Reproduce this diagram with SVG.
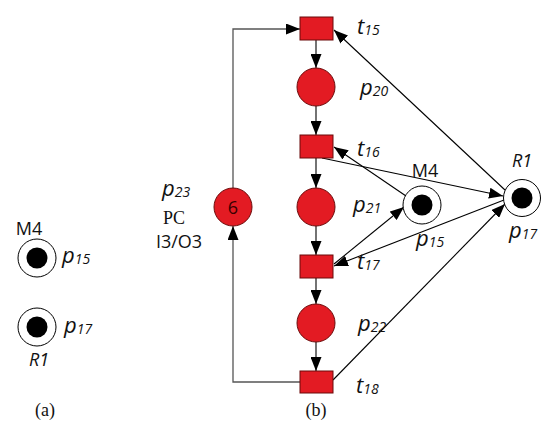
<svg xmlns="http://www.w3.org/2000/svg" width="550" height="442" viewBox="0 0 550 442">
<style>
.tr{fill:#e31b23;stroke:#6b0a0a;stroke-width:1}
.pl{fill:#e31b23;stroke:#6b0a0a;stroke-width:1}
.ring{fill:#fff;stroke:#000;stroke-width:1}
.tok{fill:#000}
.lbl{font-family:"Open Sans","DejaVu Sans",sans-serif;font-style:italic;font-size:22px;fill:#111}
.sub{font-size:14px}
.nm{font-family:"Open Sans","DejaVu Sans",sans-serif;font-size:18px;fill:#111}
.ser{font-family:"Liberation Serif",serif;font-size:18px;fill:#111}
.arc{stroke:#000;stroke-width:1.1;fill:none}
.loop{stroke:#555;stroke-width:1.3;fill:none}
</style>
<defs>
<marker id="ah" viewBox="0 0 14 11" refX="14" refY="5.5" markerWidth="14" markerHeight="11" markerUnits="userSpaceOnUse" orient="auto">
<path d="M0,0 L14,5.5 L0,11 z" fill="#000"/>
</marker>
</defs>

<g id="connectors">
<line class="arc" x1="316" y1="40" x2="316" y2="68" marker-end="url(#ah)"/>
<line class="arc" x1="316" y1="106" x2="316" y2="135" marker-end="url(#ah)"/>
<line class="arc" x1="316" y1="158" x2="316" y2="188" marker-end="url(#ah)"/>
<line class="arc" x1="316" y1="226" x2="316" y2="255" marker-end="url(#ah)"/>
<line class="arc" x1="316" y1="278" x2="316" y2="304" marker-end="url(#ah)"/>
<line class="arc" x1="316" y1="342" x2="316" y2="371" marker-end="url(#ah)"/>
<polyline class="loop" points="300,382 233,382 233,226" marker-end="url(#ah)"/>
<polyline class="loop" points="233,188 233,29 300,29" marker-end="url(#ah)"/>
<line class="arc" x1="505" y1="190" x2="334" y2="30" marker-end="url(#ah)"/>
<line class="arc" x1="322" y1="158" x2="503" y2="196" marker-end="url(#ah)"/>
<line class="arc" x1="406" y1="196" x2="334" y2="147" marker-end="url(#ah)"/>
<line class="arc" x1="334" y1="264" x2="404" y2="207" marker-end="url(#ah)"/>
<line class="arc" x1="504" y1="200" x2="334" y2="266" marker-end="url(#ah)"/>
<line class="arc" x1="333" y1="380" x2="505" y2="204" marker-end="url(#ah)"/>
</g>

<g id="a_p15">
<circle class="ring" cx="37" cy="258" r="19"/>
<circle class="tok" cx="37" cy="258" r="10.5"/>
<text class="nm" x="29" y="235" text-anchor="middle">M4</text>
<text class="lbl" x="62" y="263">p<tspan class="sub" dy="1">15</tspan></text>
</g>
<g id="a_p17">
<circle class="ring" cx="37" cy="327" r="19"/>
<circle class="tok" cx="37" cy="327" r="10.5"/>
<text class="lbl" x="64" y="333">p<tspan class="sub" dy="1">17</tspan></text>
<text class="nm" x="39" y="366" text-anchor="middle" font-style="italic">R1</text>
</g>
<text class="ser" x="45" y="416" text-anchor="middle">(a)</text>
<text class="ser" x="316" y="416" text-anchor="middle">(b)</text>

<g id="t15"><rect class="tr" x="300" y="17" width="33" height="23"/><text class="lbl" x="357" y="34">t<tspan class="sub" dy="1">15</tspan></text></g>
<g id="p20"><circle class="pl" cx="316" cy="87" r="19"/><text class="lbl" x="360" y="95">p<tspan class="sub" dy="1">20</tspan></text></g>
<g id="t16"><rect class="tr" x="300" y="135" width="33" height="23"/><text class="lbl" x="357" y="156">t<tspan class="sub" dy="1">16</tspan></text></g>
<g id="p21"><circle class="pl" cx="316" cy="207" r="19"/><text class="lbl" x="353" y="212">p<tspan class="sub" dy="1">21</tspan></text></g>
<g id="t17"><rect class="tr" x="300" y="255" width="33" height="23"/><text class="lbl" x="357" y="269">t<tspan class="sub" dy="1">17</tspan></text></g>
<g id="p22"><circle class="pl" cx="316" cy="323" r="19"/><text class="lbl" x="358" y="331">p<tspan class="sub" dy="1">22</tspan></text></g>
<g id="t18"><rect class="tr" x="300" y="371" width="33" height="22"/><text class="lbl" x="356" y="393">t<tspan class="sub" dy="1">18</tspan></text></g>
<g id="p23">
<circle class="pl" cx="233" cy="207" r="19"/>
<text x="233" y="214" text-anchor="middle" font-family="'Open Sans','DejaVu Sans',sans-serif" font-size="18" fill="#3a0000">6</text>
<text class="lbl" x="162" y="196">p<tspan class="sub" dy="1">23</tspan></text>
<text class="ser" x="174" y="224" text-anchor="middle" font-size="19">PC</text>
<text x="179" y="248" text-anchor="middle" font-family="'Open Sans','DejaVu Sans',sans-serif" font-size="18" fill="#111">I3/O3</text>
</g>
<g id="b_p15">
<circle class="ring" cx="422" cy="205" r="19"/>
<circle class="tok" cx="422" cy="205" r="10.5"/>
<text class="nm" x="425" y="177" text-anchor="middle">M4</text>
<text class="lbl" x="416" y="246">p<tspan class="sub" dy="1">15</tspan></text>
</g>
<g id="b_p17">
<circle class="ring" cx="522" cy="198" r="18.5"/>
<circle class="tok" cx="522" cy="198" r="10.5"/>
<text class="nm" x="522" y="167" text-anchor="middle" font-style="italic">R1</text>
<text class="lbl" x="509" y="238">p<tspan class="sub" dy="1">17</tspan></text>
</g>
</svg>
